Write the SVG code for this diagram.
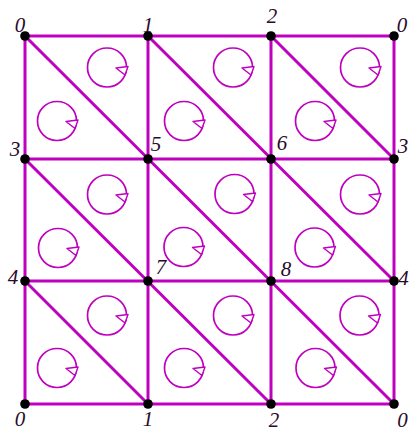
<svg xmlns="http://www.w3.org/2000/svg" width="409" height="432" viewBox="0 0 409 432">
<defs>
<style>
.e{stroke:#BF00BF;stroke-width:3;fill:none;stroke-linecap:round}
.c{stroke:#BF00BF;stroke-width:1.7;fill:none}
.h{stroke:#BF00BF;stroke-width:1.4;fill:#fff;stroke-linejoin:round}
.d{fill:#000}
.t{font-family:"Liberation Serif","DejaVu Serif",serif;font-style:italic;font-size:21px;fill:#2a0a2a;text-anchor:middle}
</style>
<g id="curl">
<circle class="c" cx="0" cy="0" r="19.5"/>
<polygon class="h" points="9,0.5 21,-1 18,7.5"/>
</g>
</defs>
<rect width="409" height="432" fill="#fff"/>
<g id="connectors">
<path class="e" d="M25,36H394M25,159H394M25,281H394M25,404H394"/>
<path class="e" d="M25,36V404M148,36V404M271,36V404M394,36V404"/>
<path class="e" d="M25,36L394,404M148,36L394,281M271,36L394,159M25,159L271,404M25,281L148,404"/>
</g>
<g id="curls">
<use href="#curl" x="107" y="67.5"/>
<use href="#curl" x="57" y="121"/>
<use href="#curl" x="233" y="67.5"/>
<use href="#curl" x="184" y="121"/>
<use href="#curl" x="360" y="67.5"/>
<use href="#curl" x="315" y="121"/>
<use href="#curl" x="107" y="194.5"/>
<use href="#curl" x="58" y="248"/>
<use href="#curl" x="234.5" y="194"/>
<use href="#curl" x="183.5" y="247"/>
<use href="#curl" x="360" y="194.5"/>
<use href="#curl" x="314.5" y="247.5"/>
<use href="#curl" x="107" y="315.5"/>
<use href="#curl" x="57" y="368"/>
<use href="#curl" x="233" y="315.5"/>
<use href="#curl" x="184" y="368"/>
<use href="#curl" x="359.5" y="315.5"/>
<use href="#curl" x="315.5" y="368"/>
</g>
<g id="n0tl"><circle class="d" cx="25" cy="36" r="4.8"/><text class="t" x="20" y="32">0</text></g>
<g id="n1t"><circle class="d" cx="148" cy="36" r="4.8"/><text class="t" x="148" y="32">1</text></g>
<g id="n2t"><circle class="d" cx="271" cy="36" r="4.8"/><text class="t" x="272" y="23">2</text></g>
<g id="n0tr"><circle class="d" cx="394" cy="36" r="4.8"/><text class="t" x="402" y="32">0</text></g>
<g id="n3l"><circle class="d" cx="25" cy="159" r="4.8"/><text class="t" x="15" y="156">3</text></g>
<g id="n5"><circle class="d" cx="148" cy="159" r="4.8"/><text class="t" x="156" y="151">5</text></g>
<g id="n6"><circle class="d" cx="271" cy="159" r="4.8"/><text class="t" x="282" y="150">6</text></g>
<g id="n3r"><circle class="d" cx="394" cy="159" r="4.8"/><text class="t" x="403" y="153">3</text></g>
<g id="n4l"><circle class="d" cx="25" cy="281" r="4.8"/><text class="t" x="13" y="284">4</text></g>
<g id="n7"><circle class="d" cx="148" cy="281" r="4.8"/><text class="t" x="161" y="274">7</text></g>
<g id="n8"><circle class="d" cx="271" cy="281" r="4.8"/><text class="t" x="286" y="276">8</text></g>
<g id="n4r"><circle class="d" cx="394" cy="281" r="4.8"/><text class="t" x="403.5" y="285">4</text></g>
<g id="n0bl"><circle class="d" cx="25" cy="404" r="4.8"/><text class="t" x="20" y="426">0</text></g>
<g id="n1b"><circle class="d" cx="148" cy="404" r="4.8"/><text class="t" x="148" y="426">1</text></g>
<g id="n2b"><circle class="d" cx="271" cy="404" r="4.8"/><text class="t" x="274" y="427">2</text></g>
<g id="n0br"><circle class="d" cx="394" cy="404" r="4.8"/><text class="t" x="402.5" y="427">0</text></g>
</svg>
